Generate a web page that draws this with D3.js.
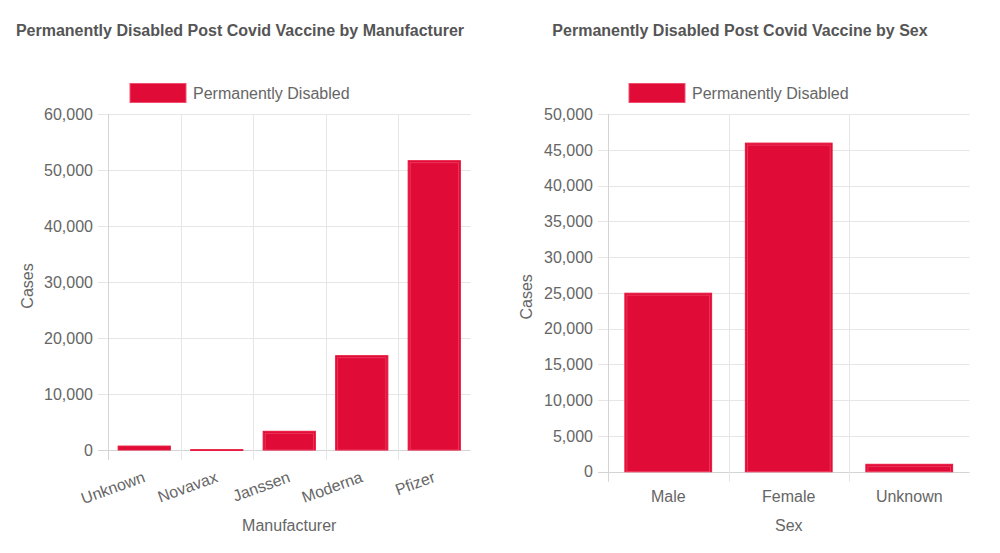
<!DOCTYPE html>
<html><head><meta charset="utf-8">
<script src="https://cdnjs.cloudflare.com/ajax/libs/d3/7.8.5/d3.min.js"></script>
<style>
html,body{margin:0;padding:0;background:#fff;}
svg{display:block;font-family:"Liberation Sans",Arial,Helvetica,sans-serif;}
</style></head>
<body>
<svg id="chart" width="1000" height="553"></svg>
<script>
const seriesName = "Permanently Disabled";
const manufacturers = ["Unknown","Novavax","Janssen","Moderna","Pfizer"];
const manufacturerValues = [700, 60, 3340, 16840, 51660];
const manufacturerTicks = [0,10000,20000,30000,40000,50000,60000];
const sexes = ["Male","Female","Unknown"];
const sexValues = [24950, 45930, 1035];
const sexTicks = [0,5000,10000,15000,20000,25000,30000,35000,40000,45000,50000];

const svg = d3.select("#chart");
const fmt = d3.format(",");
const BAR = "#e10b37";

function drawChart(cfg){
  const g = svg.append("g");
  const x = d3.scaleBand().domain(cfg.cats).range([cfg.x0, cfg.x1]).paddingInner(0).paddingOuter(0);
  const y = d3.scaleLinear().domain([0, cfg.max]).range([cfg.yb, cfg.yt]);

  // title
  g.append("text").attr("x", cfg.titleX).attr("y", 30).attr("dy","0.36em").attr("text-anchor","middle")
    .attr("font-size",16).attr("font-weight","bold")
    .attr("fill","#555").text(cfg.title);

  // legend
  g.append("rect").attr("x", cfg.legX).attr("y", 83.5).attr("width", 56).attr("height", 19)
    .attr("fill", BAR).attr("stroke","#f0506e").attr("stroke-width",1);
  g.append("text").attr("x", cfg.legX + 63).attr("y", 93).attr("dy","0.36em")
    .attr("font-size",16).attr("fill","#666").text(seriesName);

  // horizontal grid
  g.selectAll(".hg").data(cfg.ticks).join("line")
    .attr("x1", cfg.x0 - 10).attr("x2", cfg.x1)
    .attr("y1", d => Math.round(y(d)) + 0.5).attr("y2", d => Math.round(y(d)) + 0.5)
    .attr("stroke", d => d === 0 ? "#d4d4d4" : "#e6e6e6").attr("stroke-width",1);
  // y tick labels
  g.selectAll(".yl").data(cfg.ticks).join("text")
    .attr("x", cfg.x0 - 15).attr("y", d => y(d)).attr("dy","0.36em").attr("text-anchor","end")
    .attr("font-size",16).attr("fill","#666")
    .text(d => fmt(d));

  // vertical grid (category boundaries)
  g.selectAll(".vg").data(cfg.cats).join("line")
    .attr("x1", d => Math.round(x(d)) + 0.5).attr("x2", d => Math.round(x(d)) + 0.5)
    .attr("y1", cfg.yt).attr("y2", cfg.yb + 10)
    .attr("stroke", (d,i) => i === 0 ? "#d4d4d4" : "#e6e6e6").attr("stroke-width",1);

  // bars
  const bw = x.bandwidth() * 0.8 * 0.9;
  const bars = g.selectAll(".bar").data(cfg.cats.map((c,i)=>({c, v:cfg.vals[i]}))).join("g");
  bars.append("rect")
    .attr("x", d => x(d.c) + (x.bandwidth() - bw)/2)
    .attr("y", d => y(d.v)).attr("width", bw)
    .attr("height", d => Math.max(0.8, cfg.yb - y(d.v)))
    .attr("fill", BAR).attr("stroke","#e8173f").attr("stroke-width",1);
  bars.filter(d => cfg.yb - y(d.v) > 5).append("rect")
    .attr("x", d => x(d.c) + (x.bandwidth() - bw)/2 + 2)
    .attr("y", d => y(d.v) + 2).attr("width", bw - 4)
    .attr("height", d => Math.max(0, cfg.yb - y(d.v) - 2))
    .attr("fill", "none").attr("stroke","#ee4d6d").attr("stroke-width",0.8).attr("opacity",0.8);

  // x labels
  g.selectAll(".xl").data(cfg.cats).join("text")
    .each(function(d){
      const cx = x(d) + x.bandwidth()/2;
      const t = d3.select(this).attr("font-size",16).attr("fill","#666").attr("dy","0.36em").text(d);
      if (cfg.rotate) {
        t.attr("text-anchor","end")
         .attr("transform", `translate(${cx},${cfg.yb + 26}) rotate(-20)`);
      } else {
        t.attr("text-anchor","middle")
         .attr("x", cx).attr("y", cfg.yb + 25);
      }
    });

  // axis titles
  g.append("text").attr("x", (cfg.x0 + cfg.x1)/2).attr("y", 525).attr("dy","0.36em").attr("text-anchor","middle")
    .attr("font-size",16).attr("fill","#666").text(cfg.xTitle);
  g.append("text").attr("transform", `translate(${cfg.yTitleX},${(cfg.yt + cfg.yb)/2 + 4}) rotate(-90)`)
    .attr("text-anchor","middle").attr("dy","0.36em")
    .attr("font-size",16).attr("fill","#666").text("Cases");
}

drawChart({
  title: "Permanently Disabled Post Covid Vaccine by Manufacturer", titleX: 240,
  legX: 130, cats: manufacturers, vals: manufacturerValues, ticks: manufacturerTicks, max: 60000,
  x0: 108, x1: 470.5, yt: 114, yb: 450, rotate: true, xTitle: "Manufacturer", yTitleX: 27
});
drawChart({
  title: "Permanently Disabled Post Covid Vaccine by Sex", titleX: 740,
  legX: 629, cats: sexes, vals: sexValues, ticks: sexTicks, max: 50000,
  x0: 608, x1: 969.5, yt: 114, yb: 471.7, rotate: false, xTitle: "Sex", yTitleX: 526
});
</script>
</body></html>
